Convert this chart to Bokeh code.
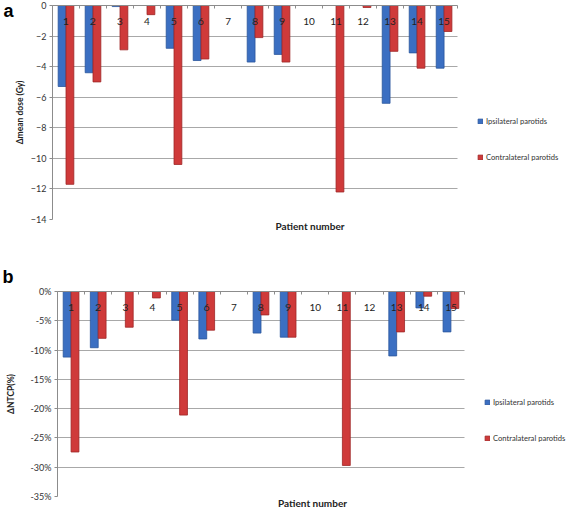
from bokeh.plotting import figure
from bokeh.layouts import column, row
from bokeh.models import (ColumnDataSource, Range1d, FixedTicker, LinearAxis, Legend, LegendItem,
                          PrintfTickFormatter, Grid)
from bokeh.transform import dodge
from bokeh.core.properties import value
from bokeh.embed import file_html
from bokeh.resources import INLINE

patients = list(range(1, 16))
patient_labels = [str(i) for i in patients]
dose_ipsi = [-5.3, -4.4, -0.07, 0, -2.8, -3.6, 0, -3.7, -3.2, 0, 0, 0, -6.4, -3.1, -4.1]
dose_contra = [-11.7, -5.0, -2.9, -0.6, -10.4, -3.5, 0, -2.1, -3.7, 0, -12.2, -0.13, -3.0, -4.1, -1.7]
ntcp_ipsi = [-11.2, -9.6, 0, 0, -4.9, -8.1, 0, -7.1, -7.8, 0, 0, 0, -11.0, -2.8, -6.9]
ntcp_contra = [-27.4, -8.0, -6.1, -1.1, -21.1, -6.6, 0, -4.0, -7.8, 0, -29.7, 0, -6.9, -0.8, -2.9]
series_names = ["Ipsilateral parotids", "Contralateral parotids"]
dose_ticks = [0, -2, -4, -6, -8, -10, -12, -14]
ntcp_ticks = [0, -5, -10, -15, -20, -25, -30, -35]
boundary_ticks = [i + 0.5 for i in range(0, 16)]

FONT = "Lato"
BLUE, BLUE_LINE = "#3b6fc2", "#2a559c"
RED, RED_LINE = "#cf3a3a", "#9e2626"
GRID = "#a8a8a8"
AXIS = "#8c8c8c"
W = 567
X0, X1 = 0.5, 15.5


def make_chart(ipsi, contra, ymin, yticks, ylabel, height, mb_left, frame_w,
               mb_top, mb_bottom, legend_x, legend_y, ylabel_standoff, fmt=None):
    src = ColumnDataSource(dict(patient=patients, label=patient_labels, ipsi=ipsi, contra=contra))
    # the frame runs to the right edge so that the legend can sit inside it
    x_end = X0 + (X1 - X0) * (W - mb_left) / frame_w
    p = figure(width=W, height=height, output_backend="svg", toolbar_location=None,
               x_range=Range1d(X0, x_end), y_range=Range1d(ymin, 0),
               x_axis_location="above", min_border_left=mb_left, min_border_right=0,
               min_border_top=mb_top, min_border_bottom=mb_bottom,
               outline_line_color=None, background_fill_color="white")
    p.xgrid.grid_line_color = None
    p.ygrid.grid_line_color = None

    grid = Grid(dimension=1, ticker=FixedTicker(ticks=yticks), grid_line_color=GRID,
                grid_line_width=1)
    try:
        grid.cross_bounds = (X0, X1)
    except Exception:
        pass
    p.add_layout(grid)

    r1 = p.vbar(x=dodge("patient", -0.145, range=p.x_range), top="ipsi", width=0.29, source=src,
                fill_color=BLUE, line_color=BLUE_LINE, line_width=0.8)
    r2 = p.vbar(x=dodge("patient", 0.145, range=p.x_range), top="contra", width=0.29, source=src,
                fill_color=RED, line_color=RED_LINE, line_width=0.8)
    p.text(x="patient", y=0, text="label", source=src, y_offset=16,
           text_align="center", text_baseline="middle", text_font=value(FONT),
           text_font_size="10px", text_color="#222222")

    # top axis (value 0) with category-boundary ticks
    xa = p.xaxis[0]
    xa.bounds = (X0, X1)
    xa.ticker = FixedTicker(ticks=boundary_ticks)
    xa.major_label_overrides = {t: "" for t in boundary_ticks}
    xa.major_label_standoff = 0
    xa.major_tick_in = 3
    xa.major_tick_out = 0
    xa.minor_tick_line_color = None
    xa.axis_line_color = AXIS
    xa.major_tick_line_color = AXIS

    # bottom axis used only for its label
    bx = LinearAxis(ticker=FixedTicker(ticks=[]), axis_label="Patient number", bounds=(X0, X1),
                    axis_line_color=None, major_tick_line_color=None, minor_tick_line_color=None,
                    major_label_standoff=0,
                    axis_label_standoff=0, axis_label_text_font=FONT,
                    axis_label_text_font_size="10px", axis_label_text_font_style="bold",
                    axis_label_text_color="#222222")
    p.add_layout(bx, "below")

    ya = p.yaxis[0]
    ya.ticker = FixedTicker(ticks=yticks)
    if fmt is not None:
        ya.formatter = fmt
    ya.axis_label = ylabel
    ya.axis_label_text_font = FONT
    ya.axis_label_text_font_size = "8.5px"
    ya.axis_label_text_font_style = "bold"
    ya.axis_label_text_color = "#222222"
    ya.axis_label_standoff = ylabel_standoff
    ya.major_label_text_font = FONT
    ya.major_label_text_font_size = "9px"
    ya.major_label_text_color = "#333333"
    ya.major_label_standoff = 3
    ya.major_tick_in = 0
    ya.major_tick_out = 3
    ya.minor_tick_line_color = None
    ya.axis_line_color = AXIS
    ya.major_tick_line_color = AXIS

    legend = Legend(items=[LegendItem(label=series_names[0], renderers=[r1]),
                           LegendItem(label=series_names[1], renderers=[r2])],
                    location=(legend_x, legend_y), orientation="vertical",
                    glyph_width=6, glyph_height=6, label_height=12, spacing=24,
                    label_text_font=FONT, label_text_font_size="7.6px",
                    label_text_color="#333333", label_standoff=3,
                    padding=0, margin=0, border_line_color=None,
                    background_fill_alpha=0)
    p.add_layout(legend)
    return p


pa = make_chart(dose_ipsi, dose_contra, -14, dose_ticks, "Δmean dose (Gy)",
                height=240, mb_left=47, frame_w=409, mb_top=5, mb_bottom=21,
                legend_x=425, legend_y=56, ylabel_standoff=3)
# panel letter "a": a one-tick outer left axis whose label sits at the top-left corner
letter_a = LinearAxis(ticker=FixedTicker(ticks=[-0.3]), major_label_overrides={-0.3: "a"},
                      axis_line_color=None, major_tick_line_color=None,
                      minor_tick_line_color=None, major_tick_in=0, major_tick_out=0,
                      major_label_standoff=-2, major_label_text_font="Liberation Sans",
                      major_label_text_font_size="18px", major_label_text_font_style="bold",
                      major_label_text_color="#000000")
pa.add_layout(letter_a, "left")

pb = make_chart(ntcp_ipsi, ntcp_contra, -35, ntcp_ticks, "ΔNTCP(%)",
                height=271, mb_left=57, frame_w=407, mb_top=51, mb_bottom=13,
                legend_x=427, legend_y=52, ylabel_standoff=12,
                fmt=PrintfTickFormatter(format="%d%%"))
pb.title.text = "b"
pb.title.align = "left"
pb.title.offset = -55
pb.title.standoff = 9
pb.title.text_font = "Liberation Sans"
pb.title.text_font_size = "18px"
pb.title.text_font_style = "bold"
pb.title.text_color = "#000000"

layout = column(row(pa), row(pb), spacing=0)
open("out.html", "w").write(file_html(layout, INLINE))
